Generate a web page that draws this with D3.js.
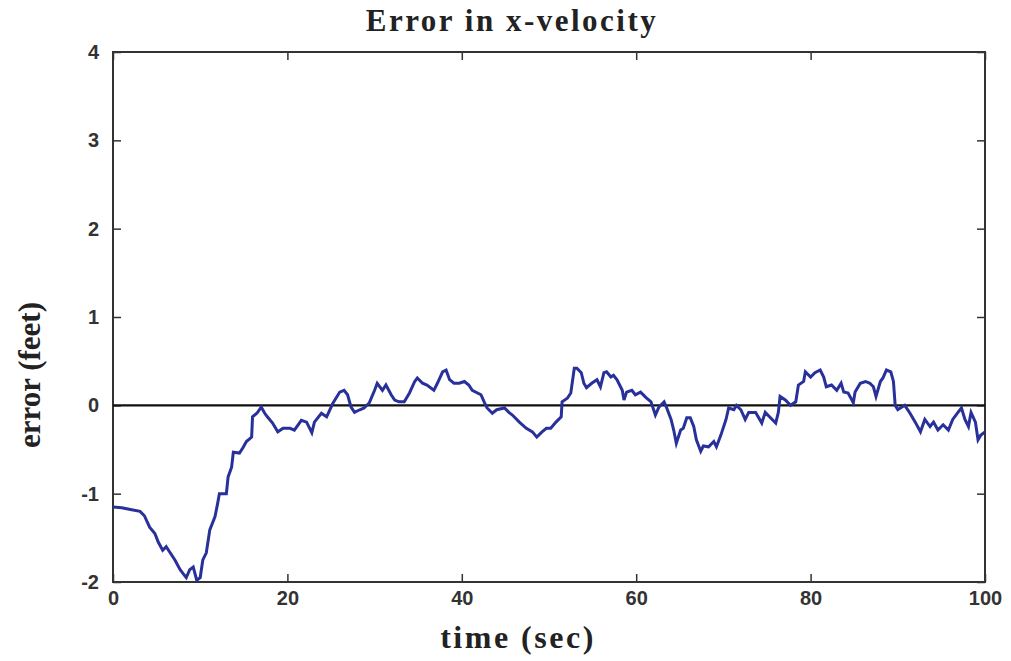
<!DOCTYPE html>
<html>
<head>
<meta charset="utf-8">
<script src="https://cdn.jsdelivr.net/npm/d3@7"></script>
<style>
  body { margin: 0; background: #fff; }
</style>
</head>
<body>
<div id="graph-container"></div>
<script>
// values
const timeSec = [
    0, 1, 2, 3.1, 3.6, 4.2, 4.8, 5.2, 5.7, 6.1, 6.5, 7.1, 7.7, 8, 8.4, 8.8, 9.2, 9.6, 10, 10.3,
    10.7, 11.1, 11.7, 12, 12.2, 13, 13.2, 13.6, 13.8, 14.5, 14.9, 15.3, 15.9, 16, 16.5, 17, 17.4, 17.7, 18.3, 18.9,
    19.5, 20.3, 20.8, 21.6, 22.2, 22.8, 23.1, 23.9, 24.5, 25.2, 26, 26.5, 26.9, 27.3, 27.7, 28.3, 28.8, 29.4, 30, 30.3,
    30.9, 31.3, 31.9, 32.3, 32.8, 33.4, 34, 34.6, 34.9, 35.5, 36, 36.8, 37.2, 37.8, 38.2, 38.6, 39.1, 39.7, 40.3, 40.8,
    41.2, 42.2, 42.6, 42.9, 43.5, 44, 44.9, 45.4, 45.8, 46.6, 47.4, 48.1, 48.6, 49.2, 49.7, 50.2, 50.8, 51.4, 51.5, 52.1,
    52.5, 52.9, 53.2, 53.7, 54, 54.3, 54.9, 55.5, 55.9, 56.3, 56.6, 57.1, 57.4, 57.8, 58.4, 58.6, 58.9, 59.5, 59.9, 60.5,
    61.1, 61.7, 62.2, 62.6, 63.2, 63.5, 64, 64.3, 64.6, 65.1, 65.4, 65.8, 66.2, 66.6, 66.9, 67.4, 67.7, 68.3, 68.9, 69.2,
    69.7, 70.3, 70.6, 71.2, 71.5, 72, 72.5, 72.9, 73.7, 74.4, 74.8, 75.4, 76, 76.3, 76.5, 77.1, 77.7, 78.3, 78.6, 79.2,
    79.4, 80, 80.5, 81.1, 81.5, 81.8, 82.4, 83, 83.5, 83.8, 84.3, 84.9, 85.1, 85.7, 86.3, 86.8, 87.2, 87.5, 88, 88.3,
    88.7, 89.2, 89.5, 89.7, 90, 90.8, 91.4, 92, 92.6, 93.1, 93.7, 94.1, 94.6, 95.2, 95.8, 96.3, 96.9, 97.3, 97.7, 98.1,
    98.4, 98.9, 99.2, 99.5, 100
];
const errorFeet = [
    -1.15, -1.16, -1.18, -1.2, -1.25, -1.38, -1.45, -1.55, -1.64, -1.6, -1.66, -1.75, -1.86, -1.9, -1.95, -1.86, -1.83, -1.98, -1.95, -1.75,
    -1.67, -1.41, -1.26, -1.11, -1.0, -1.0, -0.81, -0.7, -0.53, -0.54, -0.48, -0.41, -0.36, -0.13, -0.09, -0.02, -0.09, -0.13, -0.2, -0.3,
    -0.26, -0.26, -0.28, -0.17, -0.19, -0.31, -0.19, -0.09, -0.13, 0.02, 0.15, 0.17, 0.12, -0.02, -0.08, -0.05, -0.03, 0.03, 0.17, 0.25,
    0.17, 0.23, 0.12, 0.06, 0.04, 0.04, 0.14, 0.27, 0.31, 0.25, 0.23, 0.17, 0.25, 0.38, 0.4, 0.29, 0.25, 0.25, 0.27, 0.23,
    0.17, 0.12, 0.03, -0.03, -0.09, -0.05, -0.03, -0.08, -0.11, -0.19, -0.26, -0.3, -0.36, -0.3, -0.26, -0.26, -0.19, -0.13, 0.04, 0.08,
    0.14, 0.42, 0.42, 0.37, 0.25, 0.2, 0.25, 0.29, 0.21, 0.37, 0.38, 0.32, 0.34, 0.29, 0.17, 0.06, 0.15, 0.17, 0.12, 0.15,
    0.09, 0.04, -0.11, -0.02, 0.04, -0.03, -0.16, -0.28, -0.43, -0.28, -0.26, -0.14, -0.14, -0.24, -0.39, -0.52, -0.46, -0.47, -0.41, -0.47,
    -0.34, -0.16, -0.03, -0.05, 0.0, -0.05, -0.16, -0.08, -0.08, -0.2, -0.08, -0.14, -0.2, -0.08, 0.1, 0.06, 0.0, 0.04, 0.23, 0.27,
    0.38, 0.32, 0.37, 0.4, 0.32, 0.21, 0.23, 0.17, 0.25, 0.15, 0.14, 0.03, 0.15, 0.25, 0.27, 0.25, 0.21, 0.1, 0.27, 0.31,
    0.4, 0.38, 0.27, 0.0, -0.05, 0.0, -0.09, -0.19, -0.3, -0.16, -0.24, -0.19, -0.28, -0.22, -0.28, -0.16, -0.08, -0.03, -0.16, -0.24,
    -0.08, -0.19, -0.39, -0.34, -0.3
];
const xTicks = [0, 20, 40, 60, 80, 100];
const yTicks = [-2, -1, 0, 1, 2, 3, 4];

const width = 1011, height = 661;
const margin = {top: 52, right: 26, bottom: 79, left: 113};

const svg = d3.select("#graph-container").append("svg")
    .attr("width", width)
    .attr("height", height);

const x = d3.scaleLinear().domain([0, 100]).range([margin.left, width - margin.right]);
const y = d3.scaleLinear().domain([-2, 4]).range([height - margin.bottom, margin.top]);

svg.append("clipPath")
    .attr("id", "plot-clip")
    .append("rect")
    .attr("x", x(0)).attr("y", y(4))
    .attr("width", x(100) - x(0)).attr("height", y(-2) - y(4));

// axes, matlab style box with inward ticks on all four sides
const tickFont = g => g
    .attr("font-family", "Liberation Sans, Arial, sans-serif")
    .attr("font-weight", "bold")
    .attr("font-size", 20)
    .attr("color", "#333");

const plain = d => String(d);

svg.append("g")
    .attr("transform", `translate(0,${y(-2)})`)
    .call(d3.axisBottom(x).tickValues(xTicks).tickFormat(plain).tickSize(-8).tickPadding(9).tickSizeOuter(0))
    .call(tickFont)
    .call(g => g.select(".domain").remove());

svg.append("g")
    .attr("transform", `translate(0,${y(4)})`)
    .call(d3.axisTop(x).tickValues(xTicks).tickSize(-8).tickFormat("").tickSizeOuter(0))
    .call(tickFont)
    .call(g => g.select(".domain").remove());

svg.append("g")
    .attr("transform", `translate(${x(0)},0)`)
    .call(d3.axisLeft(y).tickValues(yTicks).tickFormat(plain).tickSize(-8).tickPadding(14).tickSizeOuter(0))
    .call(tickFont)
    .call(g => g.select(".domain").remove());

svg.append("g")
    .attr("transform", `translate(${x(100)},0)`)
    .call(d3.axisRight(y).tickValues(yTicks).tickSize(-8).tickFormat("").tickSizeOuter(0))
    .call(tickFont)
    .call(g => g.select(".domain").remove());

svg.selectAll(".tick line").attr("stroke", "#333").attr("stroke-width", 1.5);

svg.append("rect")
    .attr("x", x(0)).attr("y", y(4))
    .attr("width", x(100) - x(0)).attr("height", y(-2) - y(4))
    .attr("fill", "none")
    .attr("stroke", "#333")
    .attr("stroke-width", 2);

// zero reference line
svg.append("line")
    .attr("x1", x(0)).attr("x2", x(100))
    .attr("y1", y(0)).attr("y2", y(0))
    .attr("stroke", "#111")
    .attr("stroke-width", 2.2);

const line = d3.line()
    .x((d, i) => x(timeSec[i]))
    .y(d => y(d));

svg.append("path")
    .attr("clip-path", "url(#plot-clip)")
    .attr("d", line(errorFeet))
    .attr("fill", "none")
    .attr("stroke", "#28309a")
    .attr("stroke-width", 3)
    .attr("stroke-linejoin", "miter");

// labels
svg.append("text")
    .attr("x", 512).attr("y", 31)
    .attr("text-anchor", "middle")
    .attr("font-family", "Liberation Serif, Times New Roman, serif")
    .attr("font-weight", "bold")
    .attr("font-size", 31)
    .attr("letter-spacing", 2.5)
    .attr("fill", "#222")
    .text("Error in x-velocity");

svg.append("text")
    .attr("x", 518).attr("y", 648)
    .attr("text-anchor", "middle")
    .attr("font-family", "Liberation Serif, Times New Roman, serif")
    .attr("font-weight", "bold")
    .attr("font-size", 32)
    .attr("letter-spacing", 2.5)
    .attr("fill", "#222")
    .text("time (sec)");

svg.append("text")
    .attr("transform", "translate(40,375) rotate(-90)")
    .attr("text-anchor", "middle")
    .attr("font-family", "Liberation Serif, Times New Roman, serif")
    .attr("font-weight", "bold")
    .attr("font-size", 31)
    .attr("fill", "#222")
    .text("error (feet)");
</script>
</body>
</html>
